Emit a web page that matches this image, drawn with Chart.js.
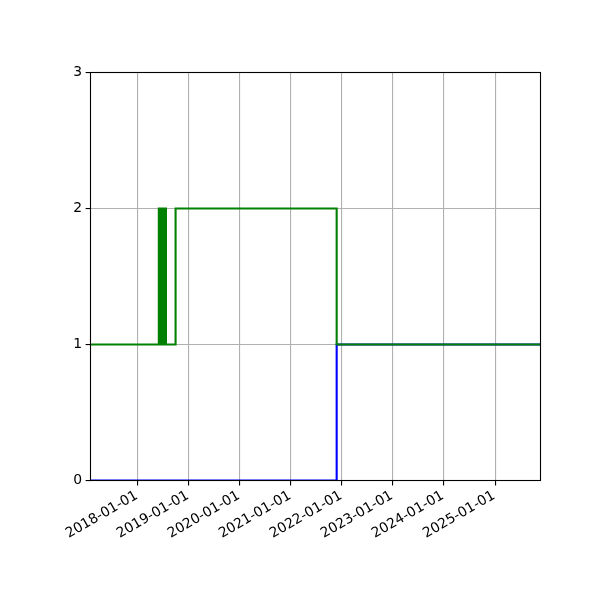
<!DOCTYPE html>
<html>
<head>
<meta charset="utf-8">
<script src="https://cdn.jsdelivr.net/npm/chart.js@4"></script>
<style>
html,body{margin:0;padding:0;background:#fff;}
#wrap{width:600px;height:600px;}
</style>
</head>
<body>
<div id="wrap"><canvas id="c" width="600" height="600"></canvas></div>
<script>
// Axis range
const xStart = '2017-01-27';
const xEnd = '2025-11-22';
// Tick labels
const xTickLabels = ['2018-01-01','2019-01-01','2020-01-01','2021-01-01','2022-01-01','2023-01-01','2024-01-01','2025-01-01'];
const yTicks = [0, 1, 2, 3];

// Green series: change points (value holds until next date)
const greenDates = ['2017-01-27','2018-05-31','2018-06-03','2018-06-06','2018-06-09','2018-06-12','2018-06-15','2018-06-18','2018-06-21','2018-06-24','2018-06-27','2018-06-30','2018-07-03','2018-07-06','2018-07-09','2018-07-12','2018-07-15','2018-07-18','2018-07-21','2018-07-24','2018-09-28','2021-11-24','2025-11-22'];
const greenValues = [1,2,1,2,1,2,1,2,1,2,1,2,1,2,1,2,1,2,1,1,2,1,1];

// Blue series: change points
const blueDates = ['2017-01-27','2021-11-24','2025-11-22'];
const blueValues = [0,1,1];

function ts(d){ const p=d.split('-'); return Date.UTC(+p[0], +p[1]-1, +p[2]); }
function toPoints(dates, vals){ return dates.map((d,i)=>({x:ts(d), y:vals[i]})); }

const frame = {
  id:'frame',
  afterDatasetsDraw(chart){
    const a = chart.chartArea, ctx = chart.ctx;
    ctx.save();
    ctx.strokeStyle = '#000';
    ctx.lineWidth = 1.1;
    ctx.strokeRect(a.left, a.top, a.right-a.left, a.bottom-a.top);
    ctx.restore();
  }
};

new Chart(document.getElementById('c'), {
  type:'line',
  data:{
    datasets:[
      {data:toPoints(greenDates, greenValues), borderColor:'#008000', borderWidth:2.1, pointRadius:0, stepped:true, fill:false, tension:0},
      {data:toPoints(blueDates, blueValues), borderColor:'#0000ff', borderWidth:2.1, pointRadius:0, stepped:true, fill:false, tension:0}
    ]
  },
  options:{
    responsive:false,
    animation:false,
    devicePixelRatio:1,
    layout:{padding:{left:0, top:72.5, right:59.5, bottom:0}},
    plugins:{legend:{display:false}, tooltip:{enabled:false}},
    scales:{
      x:{
        type:'linear',
        min: ts(xStart), max: ts(xEnd),
        afterBuildTicks(scale){ scale.ticks = xTickLabels.map(l=>({value:ts(l), label:l})); },
        afterFit(scale){ scale.height = 119.5; },
        ticks:{
          callback(v){ const d=new Date(v); return d.toISOString().slice(0,10); },
          autoSkip:false, maxRotation:30, minRotation:30, labelOffset:-1,
          color:'#000', font:{family:'DejaVu Sans', size:13.9}, padding:2
        },
        grid:{color:'#b0b0b0', lineWidth:1.1, tickColor:'#000', tickLength:4.9, drawTicks:true},
        border:{display:false}
      },
      y:{
        min:0, max:3,
        afterBuildTicks(scale){ scale.ticks = yTicks.map(v=>({value:v})); },
        afterFit(scale){ scale.width = 90.5; },
        ticks:{color:'#000', font:{family:'DejaVu Sans', size:13.9}, padding:3.5},
        grid:{color:'#b0b0b0', lineWidth:1.1, tickColor:'#000', tickLength:4.9, drawTicks:true},
        border:{display:false}
      }
    }
  },
  plugins:[frame]
});
</script>
</body>
</html>
